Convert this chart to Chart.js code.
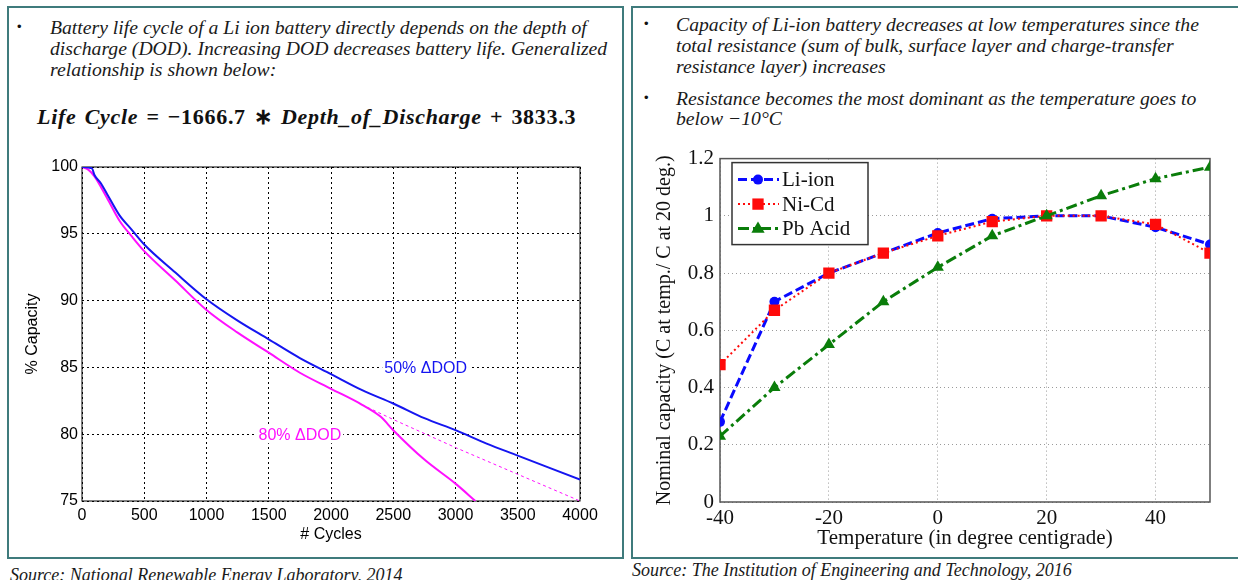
<!DOCTYPE html>
<html><head><meta charset="utf-8">
<script src="https://cdn.jsdelivr.net/npm/chart.js@4.4.1/dist/chart.umd.min.js"></script>
<style>
html,body{margin:0;padding:0;background:#fff;width:1238px;height:580px;overflow:hidden;position:relative;}
.panel{position:absolute;border:2px solid #3f7b7c;box-sizing:border-box;}
.t{position:absolute;font-family:"Liberation Serif",serif;font-style:italic;font-size:19.7px;color:#1a1a1a;white-space:nowrap;line-height:20px;}
.bul{position:absolute;font-family:"Liberation Sans",sans-serif;font-size:13px;color:#111;line-height:20px;}
.eq{position:absolute;font-family:"Liberation Serif",serif;font-weight:bold;font-size:22px;letter-spacing:0.7px;word-spacing:2px;color:#111;white-space:nowrap;line-height:24px;}
.eq i{font-style:italic;}
canvas{position:absolute;}
</style></head><body>
<div class="panel" style="left:7px;top:6px;width:617px;height:553px"></div>
<div class="panel" style="left:631px;top:6px;width:620px;height:553px"></div>

<div class="bul" style="left:17px;top:17px">•</div>
<div class="t" style="left:50px;top:17px">Battery life cycle of a Li ion battery directly depends on the depth of</div>
<div class="t" style="left:50px;top:38px">discharge (DOD). Increasing DOD decreases battery life. Generalized</div>
<div class="t" style="left:50px;top:59px">relationship is shown below:</div>
<div class="eq" style="left:37px;top:105px"><i>Life Cycle</i> = −1666.7 ∗ <i>Depth_of_Discharge</i> + 3833.3</div>

<div class="bul" style="left:644px;top:14px">•</div>
<div class="t" style="left:676px;top:14px">Capacity of Li-ion battery decreases at low temperatures since the</div>
<div class="t" style="left:676px;top:35px">total resistance (sum of bulk, surface layer and charge-transfer</div>
<div class="t" style="left:676px;top:56px">resistance layer) increases</div>
<div class="bul" style="left:644px;top:88px">•</div>
<div class="t" style="left:676px;top:88px">Resistance becomes the most dominant as the temperature goes to</div>
<div class="t" style="left:676px;top:108px">below −10°C</div>

<div class="t" style="left:10px;top:565px;font-size:18px">Source: National Renewable Energy Laboratory, 2014</div>
<div class="t" style="left:632px;top:560px;font-size:18px">Source: The Institution of Engineering and Technology, 2016</div>

<canvas id="c1" width="612" height="405" style="left:8px;top:150px"></canvas>
<canvas id="c2" width="604" height="415" style="left:634px;top:140px"></canvas>

<script>
// ---------- Left chart data ----------
const cycles50    = [0, 80, 100, 150, 200, 300, 400, 500, 750, 1000, 1250, 1500, 1750, 2000, 2250, 2500, 2750, 3000, 3250, 3500, 3750, 4000];
const capacity50  = [100, 99.9, 99.4, 98.8, 98.0, 96.4, 95.3, 94.2, 92.1, 90.1, 88.5, 87.1, 85.7, 84.5, 83.3, 82.3, 81.2, 80.3, 79.3, 78.4, 77.5, 76.6];
const cycles80    = [0, 50, 100, 200, 300, 400, 500, 750, 1000, 1250, 1500, 1750, 2000, 2250, 2400, 2500, 2750, 3000, 3160];
const capacity80  = [100, 99.8, 99.3, 97.7, 96.0, 94.8, 93.7, 91.5, 89.3, 87.6, 86.1, 84.6, 83.4, 82.2, 81.3, 80.3, 78.1, 76.3, 75.0];
const cyclesTrend80   = [2250, 2500, 3000, 3500, 4000];
const capacityTrend80 = [82.2, 81.1, 79.0, 77.0, 75.0];
const cycleTicks    = [0, 500, 1000, 1500, 2000, 2500, 3000, 3500, 4000];
const capacityTicks = [75, 80, 85, 90, 95, 100];
const seriesNames1  = ['50% ΔDOD', '80% ΔDOD'];

// ---------- Right chart data ----------
const temperatures = [-40, -30, -20, -10, 0, 10, 20, 30, 40, 50];
const liIon   = [0.28, 0.70, 0.80, 0.87, 0.94, 0.99, 1.00, 1.00, 0.96, 0.90];
const niCd    = [0.48, 0.67, 0.80, 0.87, 0.93, 0.98, 1.00, 1.00, 0.97, 0.87];
const pbAcid  = [0.23, 0.40, 0.55, 0.70, 0.82, 0.93, 1.00, 1.07, 1.13, 1.17];
const tempTicks = [-40, -20, 0, 20, 40];
const ratioTicks = [0, 0.2, 0.4, 0.6, 0.8, 1, 1.2];
const seriesNames2 = ['Li-ion', 'Ni-Cd', 'Pb Acid'];

const pts = (xs, ys) => xs.map((x, i) => ({x, y: ys[i]}));
const plain = v => String(Math.round(v * 10) / 10);

const framePlugin = {
  id: 'frame',
  beforeDatasetsDraw(c, a, o) {
    const {ctx, chartArea: {left, top, right, bottom}} = c;
    ctx.save(); ctx.setLineDash([]); ctx.strokeStyle = o.color; ctx.lineWidth = o.width;
    ctx.strokeRect(left, top, right - left, bottom - top); ctx.restore();
  }
};

const curveLabels = {
  id: 'curveLabels',
  beforeDatasetsDraw(c, a, o) {
    const {ctx, scales: {x, y}} = c;
    ctx.save();
    ctx.font = o.font; ctx.textAlign = 'center'; ctx.textBaseline = 'middle';
    o.items.forEach(it => {
      const px = x.getPixelForValue(it.x), py = y.getPixelForValue(it.y);
      const w = ctx.measureText(it.text).width;
      ctx.fillStyle = '#fff'; ctx.fillRect(px - w / 2 - 2, py - 9, w + 4, 18);
      ctx.fillStyle = it.color; ctx.fillText(it.text, px, py + 1);
    });
    ctx.restore();
  }
};

const sansFont = {family: '"Liberation Sans", Arial, sans-serif', size: 16};

new Chart(document.getElementById('c1'), {
  type: 'scatter',
  data: {datasets: [
    {label: seriesNames1[0], data: pts(cycles50, capacity50), showLine: true, borderColor: '#1515f0', borderWidth: 2, pointRadius: 0, cubicInterpolationMode: 'monotone'},
    {label: seriesNames1[1], data: pts(cycles80, capacity80), showLine: true, borderColor: '#ff10ff', borderWidth: 2, pointRadius: 0, cubicInterpolationMode: 'monotone'},
    {label: seriesNames1[1] + ' trend', data: pts(cyclesTrend80, capacityTrend80), showLine: true, borderColor: '#ff10ff', borderWidth: 1, borderDash: [3, 3], pointRadius: 0}
  ]},
  options: {
    responsive: false, animation: false, events: [],
    layout: {padding: {top: 17, right: 40, left: 0, bottom: 0}},
    plugins: {
      legend: {display: false}, tooltip: {enabled: false},
      frame: {color: '#000', width: 1},
      curveLabels: {font: '16px "Liberation Sans", Arial, sans-serif', items: [
        {x: 2760, y: 85, text: seriesNames1[0], color: '#1515f0'},
        {x: 1750, y: 80, text: seriesNames1[1], color: '#ff10ff'}
      ]}
    },
    scales: {
      x: {
        type: 'linear', min: 0, max: 4000,
        afterBuildTicks(s) { s.ticks = cycleTicks.map(v => ({value: v})); },
        afterFit(s) { s.height = 54; },
        grid: {color: '#000', lineWidth: 1, drawTicks: false},
        border: {display: false, dash: [2, 3]},
        ticks: {font: sansFont, color: '#000', padding: 5, maxRotation: 0, callback: plain},
        title: {display: true, text: '# Cycles', font: sansFont, color: '#000', padding: {top: 0, bottom: 11}}
      },
      y: {
        type: 'linear', min: 75, max: 100,
        afterBuildTicks(s) { s.ticks = capacityTicks.map(v => ({value: v})); },
        afterFit(s) { s.width = 74; },
        grid: {color: '#000', lineWidth: 1, drawTicks: false},
        border: {display: false, dash: [2, 3]},
        ticks: {font: sansFont, color: '#000', padding: 4, callback: plain},
        title: {display: true, text: '% Capacity', font: sansFont, color: '#000', padding: {top: 15, bottom: 0}}
      }
    }
  },
  plugins: [framePlugin, curveLabels]
});

// ---------- Right chart ----------
const serifFont = {family: '"Liberation Serif", "Times New Roman", serif', size: 21};
const colors2 = ['#0a0aff', '#ff0a0a', '#0a7d0a'];
const dashes2 = [[9, 4], [2, 3], [11, 4, 3, 4]];
const widths2 = [3, 2, 3];
const styles2 = ['circle', 'rect', 'triangle'];
const radii2 = [5, 8, 7];

function drawMarker(ctx, style, x, y, r, color) {
  ctx.save(); ctx.fillStyle = color; ctx.setLineDash([]); ctx.beginPath();
  if (style === 'circle') ctx.arc(x, y, r, 0, Math.PI * 2);
  else if (style === 'rect') { const s = r * Math.SQRT1_2; ctx.rect(x - s, y - s, 2 * s, 2 * s); }
  else { ctx.moveTo(x, y - r); ctx.lineTo(x + r * 0.95, y + r * 0.6); ctx.lineTo(x - r * 0.95, y + r * 0.6); ctx.closePath(); }
  ctx.fill(); ctx.restore();
}

const boxLegend = {
  id: 'boxLegend',
  afterDraw(c, a, o) {
    const {ctx, chartArea: {left, top}} = c;
    const bx = left + o.dx, by = top + o.dy;
    ctx.save();
    ctx.fillStyle = '#fff'; ctx.fillRect(bx, by, o.w, o.h);
    ctx.strokeStyle = '#333'; ctx.lineWidth = 1.5; ctx.strokeRect(bx, by, o.w, o.h);
    c.data.datasets.forEach((ds, i) => {
      const cy = by + 17 + i * 24.5;
      ctx.strokeStyle = ds.borderColor; ctx.lineWidth = ds.borderWidth; ctx.setLineDash(ds.borderDash);
      ctx.beginPath(); ctx.moveTo(bx + 6, cy); ctx.lineTo(bx + 47, cy); ctx.stroke();
      drawMarker(ctx, ds.pointStyle, bx + 26, cy, ds.pointRadius, ds.borderColor);
      ctx.setLineDash([]); ctx.fillStyle = '#111';
      ctx.font = '21px "Liberation Serif", serif'; ctx.textBaseline = 'middle'; ctx.textAlign = 'left';
      ctx.fillText(ds.label, bx + 50, cy + 1);
    });
    ctx.restore();
  }
};

const seriesData2 = [liIon, niCd, pbAcid];
new Chart(document.getElementById('c2'), {
  type: 'scatter',
  data: {datasets: seriesData2.map((vals, i) => ({
    label: seriesNames2[i], data: pts(temperatures, vals), showLine: true,
    borderColor: colors2[i], backgroundColor: colors2[i], borderWidth: widths2[i], borderDash: dashes2[i],
    pointStyle: styles2[i], pointRadius: radii2[i], pointBorderWidth: 0, order: 3 - i
  }))},
  options: {
    responsive: false, animation: false, events: [],
    layout: {padding: {top: 12, right: 28, left: 0, bottom: 0}},
    plugins: {
      legend: {display: false}, tooltip: {enabled: false},
      frame: {color: '#555', width: 1.5},
      boxLegend: {dx: 12, dy: 4, w: 136, h: 82}
    },
    scales: {
      x: {
        type: 'linear', min: -40, max: 50,
        afterBuildTicks(s) { s.ticks = tempTicks.map(v => ({value: v})); },
        afterFit(s) { s.height = 53; },
        grid: {color: '#9a9a9a', lineWidth: 1, drawTicks: false},
        border: {display: false, dash: [1, 3]},
        ticks: {font: serifFont, color: '#111', padding: 4, maxRotation: 0, callback: plain},
        title: {display: true, text: 'Temperature (in degree centigrade)', font: {family: serifFont.family, size: 21}, color: '#111', padding: {top: 0, bottom: 4}}
      },
      y: {
        type: 'linear', min: 0, max: 1.2,
        afterBuildTicks(s) { s.ticks = ratioTicks.map(v => ({value: v})); },
        afterFit(s) { s.width = 86; },
        grid: {color: '#9a9a9a', lineWidth: 1, drawTicks: false},
        border: {display: false, dash: [1, 3]},
        ticks: {font: serifFont, color: '#111', padding: 6, callback: plain},
        title: {display: true, text: 'Nominal capacity (C at temp./ C at 20 deg.)', font: {family: serifFont.family, size: 20}, color: '#111', padding: {top: 19, bottom: 0}}
      }
    }
  },
  plugins: [framePlugin, boxLegend]
});
</script>
</body></html>
